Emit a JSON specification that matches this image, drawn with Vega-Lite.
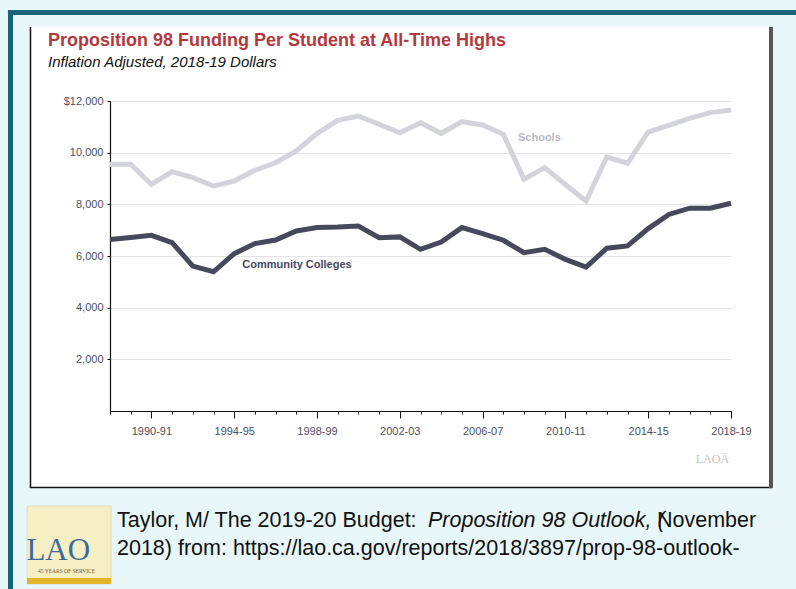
{
  "$schema": "https://vega.github.io/schema/vega-lite/v6.json",
  "width": 621,
  "height": 310,
  "autosize": {"type": "none"},
  "padding": {"left": 110, "top": 101, "right": 65, "bottom": 178},
  "background": "#ffffff",
  "title": {
    "text": "Proposition 98 Funding Per Student at All-Time Highs",
    "subtitle": "Inflation Adjusted, 2018-19 Dollars",
    "anchor": "start",
    "frame": "group",
    "dx": -62,
    "dy": 70,
    "offset": 0,
    "font": "Liberation Sans, Arial, sans-serif",
    "fontSize": 18,
    "fontWeight": "bold",
    "color": "#b23a3c",
    "subtitleFont": "Liberation Sans, Arial, sans-serif",
    "subtitleFontSize": 15,
    "subtitleFontStyle": "italic",
    "subtitleColor": "#111111",
    "subtitlePadding": 5
  },
  "config": {
    "view": {"stroke": null},
    "axis": {"labelFont": "Liberation Sans, Arial, sans-serif"}
  },
  "datasets": {
    "funding": [
      {"year": 1988, "series": "Schools", "value": 9550},
      {"year": 1989, "series": "Schools", "value": 9550},
      {"year": 1990, "series": "Schools", "value": 8770},
      {"year": 1991, "series": "Schools", "value": 9265},
      {"year": 1992, "series": "Schools", "value": 9030},
      {"year": 1993, "series": "Schools", "value": 8710},
      {"year": 1994, "series": "Schools", "value": 8900},
      {"year": 1995, "series": "Schools", "value": 9320},
      {"year": 1996, "series": "Schools", "value": 9610},
      {"year": 1997, "series": "Schools", "value": 10070},
      {"year": 1998, "series": "Schools", "value": 10740},
      {"year": 1999, "series": "Schools", "value": 11250},
      {"year": 2000, "series": "Schools", "value": 11420},
      {"year": 2001, "series": "Schools", "value": 11100},
      {"year": 2002, "series": "Schools", "value": 10770},
      {"year": 2003, "series": "Schools", "value": 11160},
      {"year": 2004, "series": "Schools", "value": 10750},
      {"year": 2005, "series": "Schools", "value": 11200},
      {"year": 2006, "series": "Schools", "value": 11070},
      {"year": 2007, "series": "Schools", "value": 10710},
      {"year": 2008, "series": "Schools", "value": 8970},
      {"year": 2009, "series": "Schools", "value": 9420},
      {"year": 2010, "series": "Schools", "value": 8770},
      {"year": 2011, "series": "Schools", "value": 8130},
      {"year": 2012, "series": "Schools", "value": 9830},
      {"year": 2013, "series": "Schools", "value": 9590},
      {"year": 2014, "series": "Schools", "value": 10800},
      {"year": 2015, "series": "Schools", "value": 11060},
      {"year": 2016, "series": "Schools", "value": 11330},
      {"year": 2017, "series": "Schools", "value": 11550},
      {"year": 2018, "series": "Schools", "value": 11650},
      {"year": 1988, "series": "Community Colleges", "value": 6640},
      {"year": 1989, "series": "Community Colleges", "value": 6720},
      {"year": 1990, "series": "Community Colleges", "value": 6800},
      {"year": 1991, "series": "Community Colleges", "value": 6520},
      {"year": 1992, "series": "Community Colleges", "value": 5610},
      {"year": 1993, "series": "Community Colleges", "value": 5390},
      {"year": 1994, "series": "Community Colleges", "value": 6090},
      {"year": 1995, "series": "Community Colleges", "value": 6480},
      {"year": 1996, "series": "Community Colleges", "value": 6620},
      {"year": 1997, "series": "Community Colleges", "value": 6970},
      {"year": 1998, "series": "Community Colleges", "value": 7100},
      {"year": 1999, "series": "Community Colleges", "value": 7120},
      {"year": 2000, "series": "Community Colleges", "value": 7160},
      {"year": 2001, "series": "Community Colleges", "value": 6710},
      {"year": 2002, "series": "Community Colleges", "value": 6740},
      {"year": 2003, "series": "Community Colleges", "value": 6260},
      {"year": 2004, "series": "Community Colleges", "value": 6540},
      {"year": 2005, "series": "Community Colleges", "value": 7100},
      {"year": 2006, "series": "Community Colleges", "value": 6870},
      {"year": 2007, "series": "Community Colleges", "value": 6610},
      {"year": 2008, "series": "Community Colleges", "value": 6130},
      {"year": 2009, "series": "Community Colleges", "value": 6260},
      {"year": 2010, "series": "Community Colleges", "value": 5870},
      {"year": 2011, "series": "Community Colleges", "value": 5570},
      {"year": 2012, "series": "Community Colleges", "value": 6300},
      {"year": 2013, "series": "Community Colleges", "value": 6390},
      {"year": 2014, "series": "Community Colleges", "value": 7060},
      {"year": 2015, "series": "Community Colleges", "value": 7610},
      {"year": 2016, "series": "Community Colleges", "value": 7850},
      {"year": 2017, "series": "Community Colleges", "value": 7850},
      {"year": 2018, "series": "Community Colleges", "value": 8040}
    ]
  },
  "resolve": {"axis": {"x": "independent", "y": "independent"}},
  "layer": [
    {
      "data": {"values": [{}]},
      "mark": {"type": "rect", "color": "#e8f7fa"},
      "encoding": {
        "x": {"datum": 1982.686, "type": "quantitative", "scale": {"domain": [1988, 2018], "nice": false, "zero": false}, "axis": null},
        "x2": {"datum": 2021.14},
        "y": {"datum": 14864.5, "type": "quantitative", "scale": {"domain": [0, 12000], "nice": false}, "axis": null},
        "y2": {"datum": 15909.7}
      }
    },
    {
      "data": {"values": [{}]},
      "mark": {"type": "rect", "color": "#e8f7fa"},
      "encoding": {
        "x": {"datum": 1982.686, "type": "quantitative", "scale": {"domain": [1988, 2018], "nice": false, "zero": false}, "axis": null},
        "x2": {"datum": 2021.14},
        "y": {"datum": -6890.5, "type": "quantitative", "scale": {"domain": [0, 12000], "nice": false}, "axis": null},
        "y2": {"datum": -2980.8}
      }
    },
    {
      "data": {"values": [{}]},
      "mark": {"type": "rect", "color": "#e8f7fa"},
      "encoding": {
        "x": {"datum": 1982.686, "type": "quantitative", "scale": {"domain": [1988, 2018], "nice": false, "zero": false}, "axis": null},
        "x2": {"datum": 1984.135},
        "y": {"datum": -6890.5, "type": "quantitative", "scale": {"domain": [0, 12000], "nice": false}, "axis": null},
        "y2": {"datum": 15909.7}
      }
    },
    {
      "data": {"values": [{}]},
      "mark": {"type": "rect", "color": "#e8f7fa"},
      "encoding": {
        "x": {"datum": 2020.03, "type": "quantitative", "scale": {"domain": [1988, 2018], "nice": false, "zero": false}, "axis": null},
        "x2": {"datum": 2021.14},
        "y": {"datum": -6890.5, "type": "quantitative", "scale": {"domain": [0, 12000], "nice": false}, "axis": null},
        "y2": {"datum": 15909.7}
      }
    },
    {
      "data": {"values": [{}]},
      "mark": {"type": "rule", "color": "#17637a", "strokeWidth": 5},
      "encoding": {
        "x": {"datum": 1983.07, "type": "quantitative", "scale": {"domain": [1988, 2018], "nice": false, "zero": false}, "axis": null},
        "x2": {"datum": 2021.14},
        "y": {"datum": 15425.8, "type": "quantitative", "scale": {"domain": [0, 12000], "nice": false}, "axis": null}
      }
    },
    {
      "data": {"values": [{}]},
      "mark": {"type": "rule", "color": "#17637a", "strokeWidth": 5},
      "encoding": {
        "x": {"datum": 1983.193, "type": "quantitative", "scale": {"domain": [1988, 2018], "nice": false, "zero": false}, "axis": null},
        "y": {"datum": 15522.6, "type": "quantitative", "scale": {"domain": [0, 12000], "nice": false}, "axis": null},
        "y2": {"datum": -6890.5}
      }
    },
    {
      "data": {"values": [{}]},
      "mark": {"type": "rule", "color": "#111111", "strokeWidth": 1.5},
      "encoding": {
        "x": {"datum": 1984.159, "type": "quantitative", "scale": {"domain": [1988, 2018], "nice": false, "zero": false}, "axis": null},
        "y": {"datum": 14864.5, "type": "quantitative", "scale": {"domain": [0, 12000], "nice": false}, "axis": null},
        "y2": {"datum": -2980.8}
      }
    },
    {
      "data": {"values": [{}]},
      "mark": {"type": "rule", "color": "#111111", "strokeWidth": 1.5},
      "encoding": {
        "x": {"datum": 1984.135, "type": "quantitative", "scale": {"domain": [1988, 2018], "nice": false, "zero": false}, "axis": null},
        "x2": {"datum": 2019.93},
        "y": {"datum": -2961.4, "type": "quantitative", "scale": {"domain": [0, 12000], "nice": false}, "axis": null}
      }
    },
    {
      "data": {"values": [{}]},
      "mark": {"type": "rule", "color": "#555555", "strokeWidth": 4},
      "encoding": {
        "x": {"datum": 2019.932, "type": "quantitative", "scale": {"domain": [1988, 2018], "nice": false, "zero": false}, "axis": null},
        "y": {"datum": 14864.5, "type": "quantitative", "scale": {"domain": [0, 12000], "nice": false}, "axis": null},
        "y2": {"datum": -2990}
      }
    },
    {
      "data": {"values": [{}]},
      "mark": {"type": "rect", "color": "#f7efc4", "stroke": "#c9c3a8", "strokeWidth": 0.5},
      "encoding": {
        "x": {"datum": 1983.99, "type": "quantitative", "scale": {"domain": [1988, 2018], "nice": false, "zero": false}, "axis": null},
        "x2": {"datum": 1988.05},
        "y": {"datum": -3677.7, "type": "quantitative", "scale": {"domain": [0, 12000], "nice": false}, "axis": null},
        "y2": {"datum": -6697}
      }
    },
    {
      "data": {"values": [{}]},
      "mark": {"type": "rect", "color": "#e4b42a"},
      "encoding": {
        "x": {"datum": 1983.99, "type": "quantitative", "scale": {"domain": [1988, 2018], "nice": false, "zero": false}, "axis": null},
        "x2": {"datum": 1988.05},
        "y": {"datum": -6465, "type": "quantitative", "scale": {"domain": [0, 12000], "nice": false}, "axis": null},
        "y2": {"datum": -6697}
      }
    },
    {
      "data": {"values": [{}]},
      "mark": {"type": "text", "font": "Liberation Serif, Times New Roman, serif", "fontSize": 31, "color": "#3b6b9c", "align": "center", "baseline": "alphabetic"},
      "encoding": {
        "x": {"datum": 1985.5, "type": "quantitative", "scale": {"domain": [1988, 2018], "nice": false, "zero": false}, "axis": null},
        "y": {"datum": -5768, "type": "quantitative", "scale": {"domain": [0, 12000], "nice": false}, "axis": null},
        "text": {"value": "LAO"}
      }
    },
    {
      "data": {"values": [{}]},
      "mark": {"type": "text", "font": "Liberation Serif, Times New Roman, serif", "fontSize": 5.5, "color": "#6a5a3a", "align": "center", "baseline": "middle"},
      "encoding": {
        "x": {"datum": 1985.9, "type": "quantitative", "scale": {"domain": [1988, 2018], "nice": false, "zero": false}, "axis": null},
        "y": {"datum": -6194, "type": "quantitative", "scale": {"domain": [0, 12000], "nice": false}, "axis": null},
        "text": {"value": "45 YEARS OF SERVICE"}
      }
    },
    {
      "data": {"values": [{}]},
      "mark": {"type": "text", "font": "Liberation Sans, Arial, sans-serif", "fontSize": 21.5, "color": "#111111", "align": "left", "baseline": "alphabetic"},
      "encoding": {
        "x": {"datum": 1988.338, "type": "quantitative", "scale": {"domain": [1988, 2018], "nice": false, "zero": false}, "axis": null},
        "y": {"datum": -4490.6, "type": "quantitative", "scale": {"domain": [0, 12000], "nice": false}, "axis": null},
        "text": {"value": "Taylor, M/  The 2019-20 Budget:"}
      }
    },
    {
      "data": {"values": [{}]},
      "mark": {"type": "text", "font": "Liberation Sans, Arial, sans-serif", "fontSize": 21.5, "fontStyle": "italic", "color": "#111111", "align": "left", "baseline": "alphabetic"},
      "encoding": {
        "x": {"datum": 2003.362, "type": "quantitative", "scale": {"domain": [1988, 2018], "nice": false, "zero": false}, "axis": null},
        "y": {"datum": -4490.6, "type": "quantitative", "scale": {"domain": [0, 12000], "nice": false}, "axis": null},
        "text": {"value": "Proposition 98 Outlook, ("}
      }
    },
    {
      "data": {"values": [{}]},
      "mark": {"type": "text", "font": "Liberation Sans, Arial, sans-serif", "fontSize": 21.5, "color": "#111111", "align": "left", "baseline": "alphabetic"},
      "encoding": {
        "x": {"datum": 2014.425, "type": "quantitative", "scale": {"domain": [1988, 2018], "nice": false, "zero": false}, "axis": null},
        "y": {"datum": -4490.6, "type": "quantitative", "scale": {"domain": [0, 12000], "nice": false}, "axis": null},
        "text": {"value": "November"}
      }
    },
    {
      "data": {"values": [{}]},
      "mark": {"type": "text", "font": "Liberation Sans, Arial, sans-serif", "fontSize": 21.5, "color": "#111111", "align": "left", "baseline": "alphabetic"},
      "encoding": {
        "x": {"datum": 1988.338, "type": "quantitative", "scale": {"domain": [1988, 2018], "nice": false, "zero": false}, "axis": null},
        "y": {"datum": -5574.3, "type": "quantitative", "scale": {"domain": [0, 12000], "nice": false}, "axis": null},
        "text": {"value": "2018) from: https://lao.ca.gov/reports/2018/3897/prop-98-outlook-"}
      }
    },
    {
      "data": {"values": [{}]},
      "mark": {"type": "text", "font": "Liberation Serif, Times New Roman, serif", "fontSize": 12, "color": "#c4c4c4", "align": "center", "baseline": "middle"},
      "encoding": {
        "x": {"datum": 2017.1, "type": "quantitative", "scale": {"domain": [1988, 2018], "nice": false, "zero": false}, "axis": null},
        "y": {"datum": -1858, "type": "quantitative", "scale": {"domain": [0, 12000], "nice": false}, "axis": null},
        "text": {"value": "LAOĀ"}
      }
    },
    {
      "data": {"name": "funding"},
      "transform": [{"filter": "datum.series == 'Schools'"}],
      "mark": {"type": "line", "strokeWidth": 5, "color": "#d3d3da"},
      "encoding": {
        "x": {
          "field": "year", "type": "quantitative",
          "scale": {"domain": [1988, 2018], "nice": false, "zero": false},
          "axis": {
            "orient": "bottom", "title": null, "values": [1990, 1994, 1998, 2002, 2006, 2010, 2014, 2018],
            "labelExpr": "datum.value + '-' + slice(format(datum.value + 1, 'd'), 2)",
            "tickSize": 7, "tickColor": "#111111", "domainColor": "#111111", "domainWidth": 1.2,
            "labelFontSize": 11, "labelColor": "#4c4f60", "labelPadding": 7, "grid": false, "labelFlush": false
          }
        },
        "y": {
          "field": "value", "type": "quantitative",
          "scale": {"domain": [0, 12000], "nice": false},
          "axis": {
            "title": null, "values": [2000, 4000, 6000, 8000, 10000, 12000],
            "labelExpr": "datum.value == 12000 ? '$12,000' : format(datum.value, ',')",
            "tickSize": 3, "tickColor": "#111111", "domainColor": "#111111", "domainWidth": 1.2,
            "labelFontSize": 11, "labelColor": "#4c4f60", "labelPadding": 4,
            "grid": true, "gridColor": "#e4e4e6", "gridWidth": 1
          }
        }
      }
    },
    {
      "data": {"name": "funding"},
      "transform": [{"filter": "datum.series == 'Community Colleges'"}],
      "mark": {"type": "line", "strokeWidth": 5, "color": "#48485c"},
      "encoding": {
        "x": {
          "field": "year", "type": "quantitative",
          "scale": {"domain": [1988, 2018], "nice": false, "zero": false},
          "axis": {
            "orient": "bottom", "title": null, "values": [1988, 1989, 1990, 1991, 1992, 1993, 1994, 1995, 1996, 1997, 1998, 1999, 2000, 2001, 2002, 2003, 2004, 2005, 2006, 2007, 2008, 2009, 2010, 2011, 2012, 2013, 2014, 2015, 2016, 2017, 2018],
            "labels": false, "domain": false, "grid": false, "tickSize": 3, "tickColor": "#111111"
          }
        },
        "y": {"field": "value", "type": "quantitative", "scale": {"domain": [0, 12000], "nice": false}, "axis": null}
      }
    },
    {
      "data": {"values": [{}]},
      "mark": {"type": "text", "font": "Liberation Sans, Arial, sans-serif", "fontSize": 11, "fontWeight": "bold", "color": "#b9b9c5", "align": "left", "baseline": "middle"},
      "encoding": {
        "x": {"datum": 2007.71, "type": "quantitative", "scale": {"domain": [1988, 2018], "nice": false, "zero": false}, "axis": null},
        "y": {"datum": 10587, "type": "quantitative", "scale": {"domain": [0, 12000], "nice": false}, "axis": null},
        "text": {"value": "Schools"}
      }
    },
    {
      "data": {"values": [{}]},
      "mark": {"type": "text", "font": "Liberation Sans, Arial, sans-serif", "fontSize": 11, "fontWeight": "bold", "color": "#48485c", "align": "left", "baseline": "middle"},
      "encoding": {
        "x": {"datum": 1994.39, "type": "quantitative", "scale": {"domain": [1988, 2018], "nice": false, "zero": false}, "axis": null},
        "y": {"datum": 5652, "type": "quantitative", "scale": {"domain": [0, 12000], "nice": false}, "axis": null},
        "text": {"value": "Community Colleges"}
      }
    }
  ]
}
